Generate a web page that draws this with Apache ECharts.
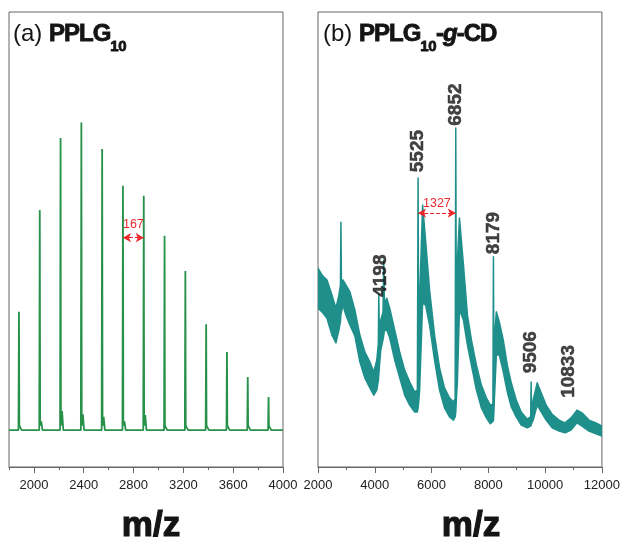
<!DOCTYPE html>
<html>
<head>
<meta charset="utf-8">
<script src="https://cdn.jsdelivr.net/npm/echarts@6/dist/echarts.min.js"></script>
<style>html,body{margin:0;padding:0;background:#fff}#c{width:623px;height:540px}</style>
</head>
<body>
<div id="c"></div>
<script>
// ---------- Panel (a): PPLG10 ----------
const aPeakMz   = [1880, 2047, 2214, 2381, 2548, 2715, 2882, 3049, 3216, 3383, 3550, 3717, 3884];
const aPeakInt  = [34.1, 56.5, 72.3, 75.7, 69.9, 61.8, 59.6, 50.8, 43.1, 31.4, 25.3, 19.8, 15.4];
const aShoulder = [8.9, 10.0, 12.3, 11.6, 11.0, 10.0, 11.4, 9.5, 9.3, 9.0, 9.0, 8.8, 8.8];
const aBaseline = 8.1;
const aTickMajor = [2000, 2400, 2800, 3200, 3600, 4000];
const aTickMinor = [1800, 2200, 2600, 3000, 3400, 3800];
const aSpacing = {from: 2715, to: 2882, level: 50.4, text: '167'};

// ---------- Panel (b): PPLG10-g-CD ----------
const bMz = [2000,2140,2316,2491,2632,2737,2790,2807,2825,2877,2982,3123,3298,3474,3649,3825,3965,4070,4125,4140,4160,4211,4290,4316,4340,4421,4526,4702,4877,5053,5228,5404,5500,5525,5550,5579,5684,5789,5930,6105,6281,6456,6632,6772,6830,6852,6875,6912,6982,7123,7263,7404,7579,7754,7930,8070,8160,8179,8195,8211,8281,8386,8526,8667,8807,8982,9158,9368,9490,9506,9525,9579,9719,9860,10035,10246,10491,10702,10912,11123,11298,11544,11789,12000];
const bHi = [43.7,42.2,41.1,37.8,34.9,37.8,40.0,53.8,41.0,41.1,40.0,38.5,34.5,29.0,25.3,23.1,20.9,23.5,27.0,37.8,30.0,32.3,34.0,45.5,36.0,37.1,34.9,30.1,25.3,21.3,18.7,16.5,16.9,63.5,22.0,36.7,57.6,49.9,38.9,29.0,21.8,17.4,15.2,14.3,15.0,74.5,25.0,45.5,54.7,44.4,33.4,27.9,22.4,18.0,15.2,13.6,13.8,46.2,20.0,27.9,34.1,31.9,27.9,22.4,18.5,14.7,12.1,10.5,11.0,18.7,11.5,14.7,18.5,16.3,13.6,11.6,10.3,9.7,10.8,12.5,11.9,10.3,9.7,9.0];
const bLo = [34.9,34.1,32.7,29.0,27.3,30.1,32.0,33.5,34.0,35.6,33.4,31.2,28.8,23.1,19.6,17.4,15.8,16.9,19.0,20.2,22.0,25.7,28.0,29.0,30.0,30.1,28.4,23.5,19.6,15.8,13.6,12.1,12.1,13.0,14.5,16.9,36.0,35.6,31.2,23.5,16.9,13.0,11.0,10.3,11.0,12.0,15.0,19.1,34.5,32.3,26.8,22.4,16.9,13.0,10.8,9.5,10.0,10.3,12.0,14.7,24.6,24.6,20.9,16.5,13.2,11.0,9.2,8.6,9.0,9.2,9.6,10.3,13.6,12.1,10.3,8.6,7.9,7.5,8.1,9.7,9.0,7.9,7.3,6.8];
const bLabelMz = [4198, 5525, 6852, 8179, 9506, 10833];
const bLabelBase = [38.5, 65.0, 75.0, 47.0, 20.8, 14.1];
const bTickMajor = [2000, 4000, 6000, 8000, 10000, 12000];
const bTickMinor = [3000, 5000, 7000, 9000, 11000];
const bSpacing = {from: 5525, to: 6852, level: 55.8, text: '1327'};

// ---------- styles ----------
const GREEN = '#27914a', TEAL = '#1f8f8c', RED = '#e8282b', FRAME = '#666', INK = '#141414';
const FONT = 'Liberation Sans, Arial, sans-serif';
const labelShift = {4198: -5, 5525: -1, 8179: -1, 9506: -1, 10833: 5};

// build panel (a) trace from peak lists
const aData = [[1800, aBaseline]];
aPeakMz.forEach((m, i) => {
  aData.push([m - 4, aBaseline], [m, aPeakInt[i]], [m + 3, aBaseline + 1], [m + 12, aShoulder[i]], [m + 22, aBaseline]);
});
aData.push([4000, aBaseline]);

// ---------- title text (measured so that subscripts can be placed) ----------
const mctx = document.createElement('canvas').getContext('2d');
function fontStr(p) { return (p.italic ? 'italic ' : '') + (p.bold ? 'bold ' : '') + p.size + 'px ' + FONT; }
function buildTitle(x0, baseline, parts) {
  const els = [];
  let x = x0;
  parts.forEach(p => {
    const f = fontStr(p);
    mctx.font = f;
    for (const ch of p.t) {
      const w = mctx.measureText(ch).width;
      const by = baseline + (p.sub ? 9 : 0);
      els.push({type: 'text', x: x, y: by - 0.3465 * p.size, silent: true,
        style: {text: ch, font: f, fill: INK, stroke: p.bold ? INK : null, lineWidth: p.bold ? 0.8 : 0,
                textAlign: 'left', textVerticalAlign: 'middle'}});
      x += w + (p.track || 0);
    }
  });
  return els;
}
const titleA = buildTitle(13, 43, [
  {t: '(a) ', size: 24}, {t: 'PPLG', size: 24, bold: true, track: -1}, {t: '10', size: 15, bold: true, sub: true, track: -0.5}
]);
const titleB = buildTitle(323, 43, [
  {t: '(b) ', size: 24}, {t: 'PPLG', size: 24, bold: true, track: -1}, {t: '10', size: 15, bold: true, sub: true, track: -0.5},
  {t: '-', size: 24, bold: true, track: -1}, {t: 'g', size: 24, bold: true, italic: true, track: -1}, {t: '-CD', size: 24, bold: true, track: -1}
]);

function majorAxis(grid, min, max, ticks) {
  return {
    type: 'value', gridIndex: grid, min: min, max: max, position: 'bottom',
    axisLine: {show: true, onZero: false, lineStyle: {color: FRAME, width: 1}},
    axisTick: {show: true, inside: false, length: 6, customValues: ticks, lineStyle: {color: FRAME, width: 1}},
    axisLabel: {show: true, customValues: ticks, margin: 12, fontFamily: FONT, fontSize: 13, color: '#222',
      formatter: v => String(v), showMinLabel: true, showMaxLabel: true},
    splitLine: {show: false}
  };
}
function minorAxis(grid, min, max, ticks) {
  return {
    type: 'value', gridIndex: grid, min: min, max: max, position: 'bottom',
    axisLine: {show: false},
    axisTick: {show: true, inside: false, length: 3, customValues: ticks, lineStyle: {color: FRAME, width: 1}},
    axisLabel: {show: false},
    splitLine: {show: false}
  };
}
function spacingMark(s, gap) {
  return {
    silent: true, symbol: ['arrow', 'arrow'], symbolSize: [7, 8], animation: false,
    lineStyle: {color: RED, width: 1, type: 'dashed'},
    label: {show: true, position: 'middle', formatter: s.text, color: RED, fontFamily: FONT, fontSize: 12.5, distance: gap},
    data: [[{coord: [s.from, s.level]}, {coord: [s.to, s.level]}]]
  };
}
function axisName(x) {
  return {type: 'text', x: x, y: 526, silent: true,
    style: {text: 'm/z', fontFamily: FONT, fontSize: 35, fontWeight: 'bold', fill: INK, stroke: INK, lineWidth: 1.2,
            textAlign: 'center', textVerticalAlign: 'middle'}};
}

const chart = echarts.init(document.getElementById('c'), null, {renderer: 'canvas'});
chart.setOption({
  animation: false,
  backgroundColor: '#fff',
  grid: [
    {left: 9, top: 12, width: 274, height: 455, show: true, borderColor: FRAME, borderWidth: 1, containLabel: false},
    {left: 318, top: 12, width: 285, height: 455, show: true, borderColor: FRAME, borderWidth: 1, containLabel: false}
  ],
  xAxis: [
    majorAxis(0, 1800, 4000, aTickMajor),
    minorAxis(0, 1800, 4000, aTickMinor),
    majorAxis(1, 2000, 12000, bTickMajor),
    minorAxis(1, 2000, 12000, bTickMinor)
  ],
  yAxis: [
    {type: 'value', gridIndex: 0, min: 0, max: 100, show: false, splitLine: {show: false}},
    {type: 'value', gridIndex: 1, min: 0, max: 100, show: false, splitLine: {show: false}}
  ],
  graphic: titleA.concat(titleB, [axisName(151), axisName(471)]),
  series: [
    {
      type: 'line', xAxisIndex: 0, yAxisIndex: 0, data: aData, showSymbol: false, sampling: null,
      lineStyle: {color: GREEN, width: 1.8}, itemStyle: {color: GREEN},
      markLine: spacingMark(aSpacing, 7)
    },
    {
      // noisy band drawn as a ribbon between upper and lower envelope
      type: 'custom', xAxisIndex: 2, yAxisIndex: 1, silent: true, clip: true,
      data: bMz.map((m, i) => [m, bHi[i], bLo[i]]),
      encode: {x: 0, y: [1, 2]},
      renderItem: function (params, api) {
        if (params.dataIndex !== 0) return null;
        const pts = [];
        for (let i = 0; i < bMz.length; i++) pts.push(api.coord([bMz[i], bHi[i]]));
        for (let i = bMz.length - 1; i >= 0; i--) pts.push(api.coord([bMz[i], bLo[i]]));
        return {type: 'polygon', shape: {points: pts}, style: {fill: TEAL, stroke: TEAL, lineWidth: 1.5, lineJoin: 'round'}};
      }
    },
    {
      type: 'scatter', xAxisIndex: 2, yAxisIndex: 1, symbolSize: 1,
      itemStyle: {color: 'rgba(0,0,0,0)'}, silent: true, z: 5,
      data: bLabelMz.map((m, i) => ({
        value: [m, bLabelBase[i]],
        label: {offset: [labelShift[m] || 0, 0]}
      })),
      label: {
        show: true, position: 'inside', rotate: 90, align: 'left', verticalAlign: 'middle',
        formatter: p => String(p.value[0]),
        fontFamily: FONT, fontSize: 19, fontWeight: 'bold', color: INK, textBorderColor: INK, textBorderWidth: 0.5
      },
      markLine: spacingMark(bSpacing, 3)
    }
  ]
});
</script>
</body>
</html>
